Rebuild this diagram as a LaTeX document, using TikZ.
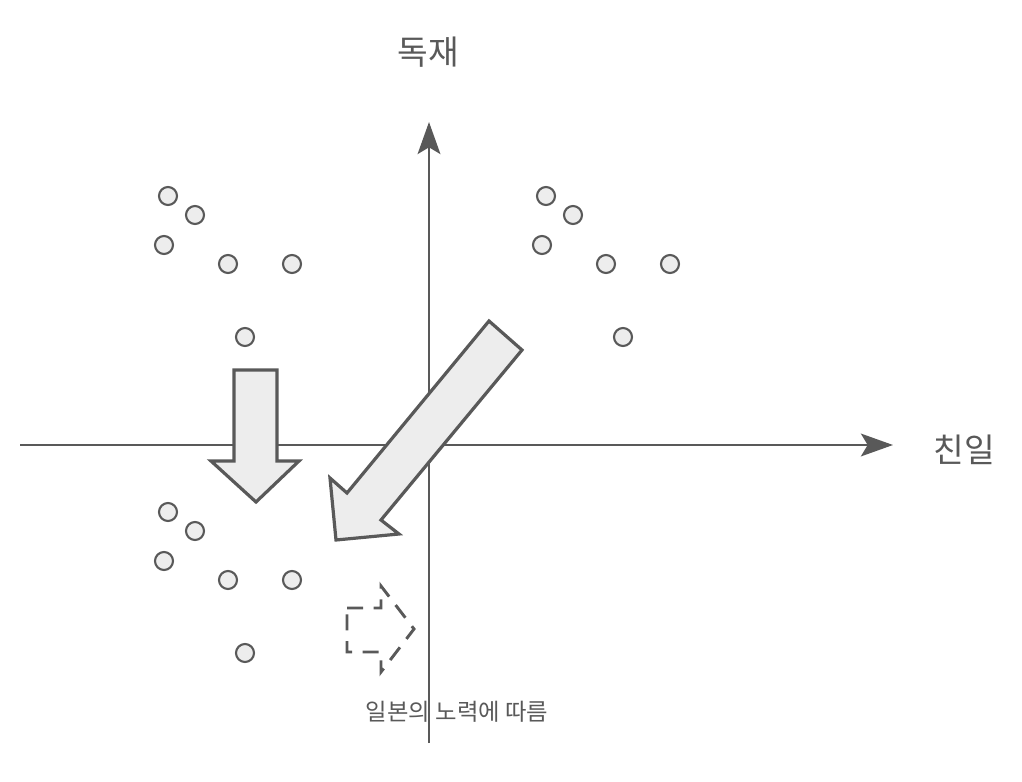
\documentclass[tikz,border=0pt]{standalone}
\usepackage{fontspec}
\setmainfont{Noto Sans CJK KR}
\usetikzlibrary{arrows.meta}
\definecolor{ln}{HTML}{595959}
\definecolor{fl}{HTML}{EDEDED}
\tikzset{axis/.style={draw=ln,line width=2.2pt,-{Stealth[length=24pt,width=17pt,inset=5pt]}},
dot/.style={circle,draw=ln,fill=fl,line width=1.6pt,minimum size=13.5pt,inner sep=0pt},
bigarrow/.style={draw=ln,fill=fl,line width=2.4pt,line join=miter},
lbl/.style={text=ln,inner sep=0pt}}
\begin{document}
\begin{tikzpicture}[x=0.75pt,y=-0.75pt]
\useasboundingbox (0,0) rectangle (1022,782);
\coordinate (xs) at (20,445); \coordinate (xe) at (893,445);
\coordinate (ys) at (429,743); \coordinate (ye) at (429,122);
\draw[axis] (xs) -- (xe);
\draw[axis] (ys) -- (ye);
\node[lbl,font=\fontsize{25pt}{30pt}\selectfont] (t1) at (428,52) {독재};
\node[lbl,font=\fontsize{25pt}{30pt}\selectfont] (t2) at (964,450) {친일};
\node[lbl,font=\fontsize{17.5pt}{21pt}\selectfont] (t3) at (457,712) {일본의 노력에 따름};
\foreach \dx/\dy [count=\i] in {0/0,378/0,0/316}{
 \foreach \x/\y [count=\j] in {168/196,195/215,164/245,228/264,292/264,245/337}
  \node[dot] (d\i\j) at (\x+\dx,\y+\dy) {};
}
\draw[bigarrow] (489,321) -- (522,350) -- (381,520) -- (399,534) -- (336,540) -- (330,478) -- (347,493) -- cycle;
\draw[bigarrow] (234,370) -- (277,370) -- (277,461) -- (299,461) -- (256,502) -- (211,461) -- (234,461) -- cycle;
\draw[draw=ln,line width=2.2pt,dash pattern=on 12pt off 8pt] (347,608) -- (381,608) -- (381,586) -- (414,629) -- (381,672) -- (381,652) -- (347,652) -- cycle;
\end{tikzpicture}
\end{document}
